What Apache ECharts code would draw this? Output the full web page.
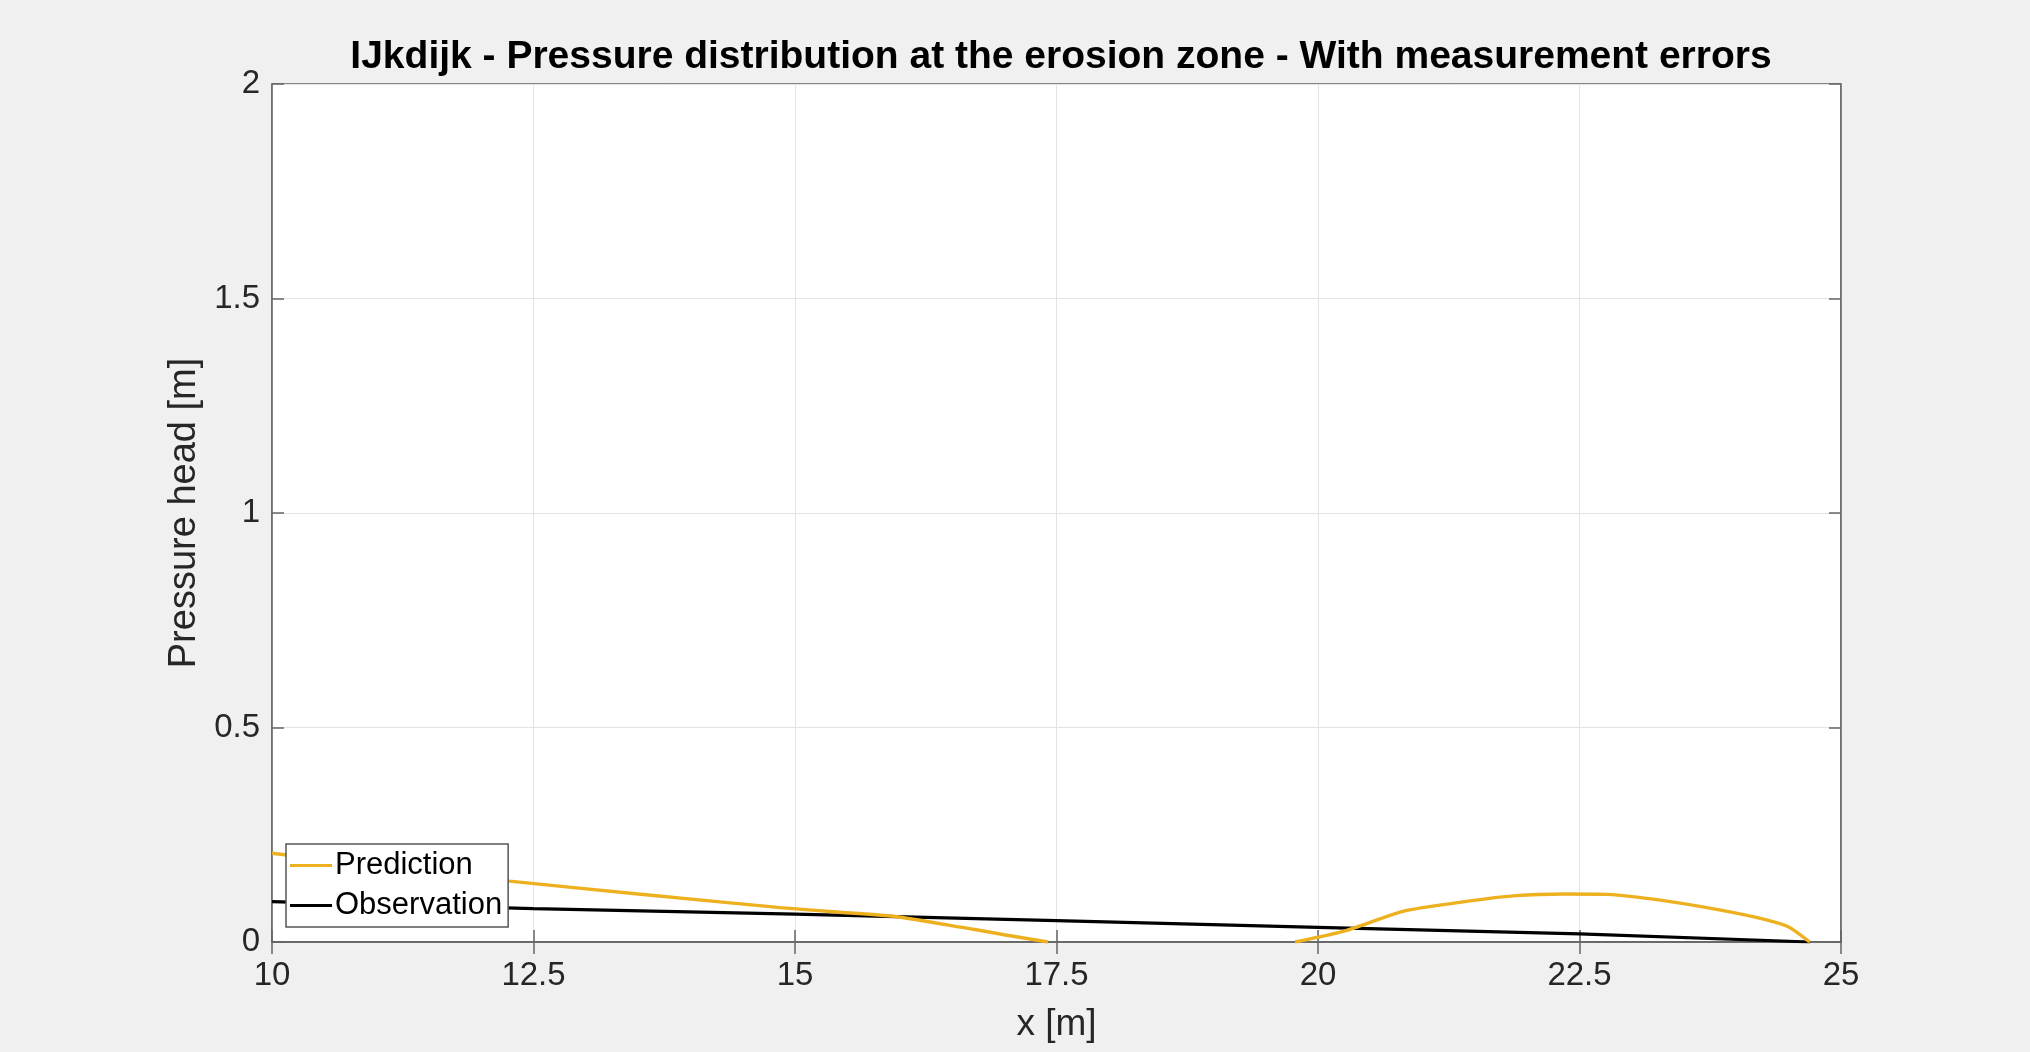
<!DOCTYPE html>
<html>
<head>
<meta charset="utf-8">
<script src="https://cdn.jsdelivr.net/npm/echarts@6/dist/echarts.min.js"></script>
<style>
html,body{margin:0;padding:0;background:#f0f0f0;}
#chart{width:2030px;height:1052px;}
</style>
</head>
<body>
<div id="chart"></div>
<script>
// ---- data ----
var titleText = 'IJkdijk - Pressure distribution at the erosion zone - With measurement errors';
var xName = 'x [m]';
var yName = 'Pressure head [m]';
var seriesNames = ['Prediction', 'Observation'];

var predX = [10, 11, 12.27, 13.5, 14.86, 15.4, 15.94, 16.6, 17.0, 17.42, 18.6, 19.78, 20.26, 20.82, 21.37, 21.89, 22.35, 22.77, 23.29, 23.81, 24.23, 24.5, 24.7];
var predY = [0.207, 0.178, 0.142, 0.112, 0.080, 0.070, 0.060, 0.034, 0.017, 0, null, 0, 0.026, 0.072, 0.093, 0.108, 0.112, 0.111, 0.097, 0.076, 0.055, 0.035, 0];

var obsX = [10, 12.5, 15, 17.5, 20, 22.5, 24.7];
var obsY = [0.094, 0.078, 0.065, 0.050, 0.034, 0.019, 0];

var xMin = 10, xMax = 25, xStep = 2.5;
var yMin = 0, yMax = 2, yStep = 0.5;

function pairs(xs, ys) {
  return xs.map(function (x, i) { return [x, ys[i]]; });
}

var FONT = '"Liberation Sans", Arial, Helvetica, sans-serif';
var chart = echarts.init(document.getElementById('chart'), null, {renderer: 'canvas'});

var gridLine = {show: true, lineStyle: {color: '#e3e3e3', width: 1}};
var axisLineStyle = {show: true, lineStyle: {color: '#666666', width: 1.5}};
var tickStyle = {show: true, inside: true, length: 12, lineStyle: {color: '#666666', width: 1.5}};

chart.setOption({
  backgroundColor: '#f0f0f0',
  animation: false,
  title: {
    text: titleText,
    left: 1056,
    top: 33,
    textAlign: 'center',
    textStyle: {fontFamily: FONT, fontWeight: 'bold', fontSize: 39, color: '#000000'}
  },
  grid: {
    left: 272, top: 84, width: 1569, height: 858,
    show: true, backgroundColor: '#ffffff', borderColor: '#666666', borderWidth: 1.5,
    containLabel: false
  },
  legend: {
    orient: 'vertical',
    left: 286, top: 844,
    padding: [6, 6, 6, 4],
    itemGap: 9,
    itemWidth: 42, itemHeight: 3,
    icon: 'rect',
    backgroundColor: '#ffffff',
    borderColor: '#555555', borderWidth: 1.5, borderRadius: 0,
    textStyle: {fontFamily: FONT, fontSize: 31, color: '#000000', padding: [0, 0, 0, -2]},
    data: seriesNames
  },
  xAxis: [{
    type: 'value', min: xMin, max: xMax, interval: xStep,
    name: xName, nameLocation: 'middle', nameGap: 64,
    nameTextStyle: {fontFamily: FONT, fontSize: 37, color: '#262626'},
    axisLine: axisLineStyle,
    axisTick: tickStyle,
    axisLabel: {fontFamily: FONT, fontSize: 33, color: '#262626', margin: 17},
    splitLine: gridLine
  }, {
    type: 'value', min: xMin, max: xMax, interval: xStep, position: 'top',
    axisLine: axisLineStyle,
    axisTick: tickStyle,
    axisLabel: {show: false}, splitLine: {show: false}
  }],
  yAxis: [{
    type: 'value', min: yMin, max: yMax, interval: yStep,
    name: yName, nameLocation: 'middle', nameGap: 66, nameRotate: 90,
    nameTextStyle: {fontFamily: FONT, fontSize: 38, color: '#262626'},
    axisLine: axisLineStyle,
    axisTick: tickStyle,
    axisLabel: {fontFamily: FONT, fontSize: 33, color: '#262626', margin: 12},
    splitLine: gridLine
  }, {
    type: 'value', min: yMin, max: yMax, interval: yStep, position: 'right',
    axisLine: axisLineStyle,
    axisTick: tickStyle,
    axisLabel: {show: false}, splitLine: {show: false}
  }],
  series: [{
    name: seriesNames[0], type: 'line',
    data: pairs(predX, predY),
    symbol: 'none', connectNulls: false, clip: true, smooth: 0.2,
    lineStyle: {color: '#EDB120', width: 3.4},
    itemStyle: {color: '#EDB120'},
    z: 3
  }, {
    name: seriesNames[1], type: 'line',
    data: pairs(obsX, obsY),
    symbol: 'none', clip: true,
    lineStyle: {color: '#000000', width: 3.2},
    itemStyle: {color: '#000000'},
    z: 2
  }]
});
</script>
</body>
</html>
